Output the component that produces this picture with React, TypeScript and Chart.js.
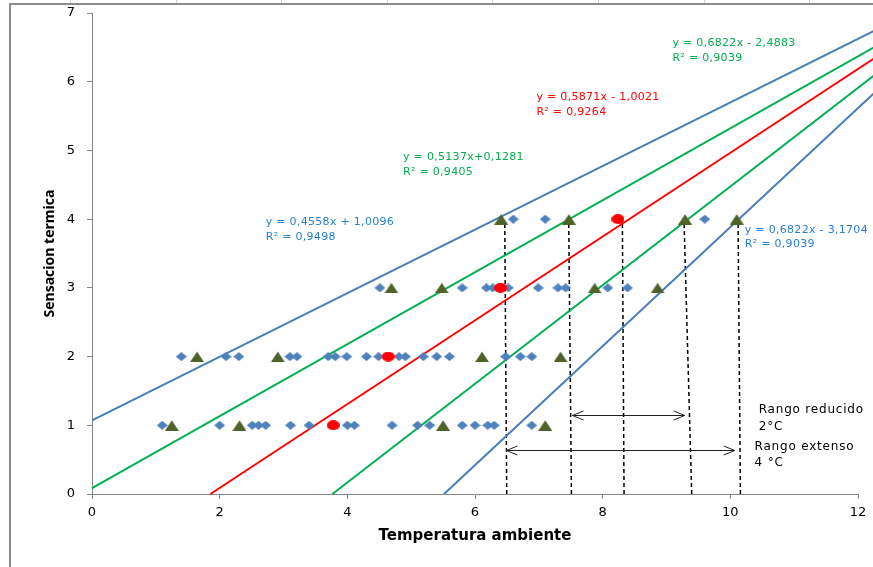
import React, { useEffect, useRef } from "react";
import { Chart, registerables } from "chart.js";
Chart.register(...registerables);

// ---- data ----
const xTickStep = 2;
const xMin = 0;
const xMax = 12;
const yMin = 0;
const yMax = 7;

// blue diamonds, one array per sensation level (1..4)
const diamondLevels = [1, 2, 3, 4];
const diamondX1 = [1.1, 2.0, 2.51, 2.61, 2.72, 3.11, 3.4, 4.0, 4.11, 4.7, 5.1, 5.29, 5.8, 6.0, 6.2, 6.3, 6.89];
const diamondX2 = [1.4, 2.1, 2.3, 3.1, 3.21, 3.7, 3.81, 3.99, 4.3, 4.49, 4.81, 4.91, 5.19, 5.4, 5.6, 6.48, 6.71, 6.89];
const diamondX3 = [4.51, 5.8, 6.18, 6.28, 6.52, 6.99, 7.3, 7.42, 8.08, 8.39];
const diamondX4 = [6.6, 7.1, 9.6];

// olive triangles
const triangleX1 = [1.25, 2.31, 5.5, 7.1];
const triangleX2 = [1.645, 2.91, 6.11, 7.34];
const triangleX3 = [4.69, 5.48, 7.875, 8.86];
const triangleX4 = [6.41, 7.47, 9.29, 10.1];

// red circles
const redX = [3.78, 4.64, 6.4, 8.24];
const redY = [1, 2, 3, 4];

// trend lines (end points)
const blueUpperX = [0, 12.5];
const blueUpperY = [1.07, 6.855];
const greenUpperX = [0, 12.5];
const greenUpperY = [0.087, 6.632];
const redLineX = [1.855, 12.5];
const redLineY = [0, 6.49];
const greenLowerX = [3.766, 12.5];
const greenLowerY = [0, 6.27];
const blueLowerX = [5.515, 12.5];
const blueLowerY = [0, 6.05];

// dashed verticals: bottom x, top x, top y
const dashBottomX = [6.497, 7.511, 8.335, 9.395, 10.158];
const dashTopX = [6.466, 7.468, 8.309, 9.275, 10.121];
const dashTopY = [3.96, 3.96, 3.93, 3.96, 3.96];

// double arrows
const arrowFrom = [7.527, 6.492];
const arrowTo = [9.286, 10.069];
const arrowY = [1.154, 0.645];

// equation texts
const eqTexts = [
  ["y = 0,4558x + 1,0096", "R² = 0,9498"],
  ["y = 0,5137x+0,1281", "R² = 0,9405"],
  ["y = 0,5871x - 1,0021", "R² = 0,9264"],
  ["y = 0,6822x - 2,4883", "R² = 0,9039"],
  ["y = 0,6822x - 3,1704", "R² = 0,9039"],
];
const rangeTexts = [["Rango reducido", "2°C"], ["Rango extenso", "4 °C"]];

// ---- styles / layout ----
const BLUE_LINE = "#4A7EBB";
const GREEN = "#00B050";
const RED = "#FF0000";
const BLUE_TEXT = "#2A80D0";
const eqStyle = [
  { x: 2.721, y: 3.953, color: BLUE_TEXT },
  { x: 4.872, y: 4.905, color: GREEN },
  { x: 6.962, y: 5.773, color: RED },
  { x: 9.093, y: 6.555, color: GREEN },
  { x: 10.226, y: 3.847, color: BLUE_TEXT },
];
const eqLineGap = 0.215;
const rangeStyle = [
  { x: 10.445, y: 1.217 },
  { x: 10.38, y: 0.684 },
];
const rangeLineGap = 0.235;

function makeShape(kind: string, w: number, h: number, color: string) {
  const c = document.createElement("canvas");
  c.width = w;
  c.height = h;
  const g = c.getContext("2d")!;
  g.fillStyle = color;
  g.beginPath();
  if (kind === "diamond") {
    g.moveTo(w / 2, 0);
    g.lineTo(w, h / 2);
    g.lineTo(w / 2, h);
    g.lineTo(0, h / 2);
  } else if (kind === "triangle") {
    g.moveTo(w / 2, 0.5);
    g.lineTo(w, h);
    g.lineTo(0, h);
  } else {
    g.ellipse(w / 2, h / 2, w / 2, h / 2, 0, 0, Math.PI * 2);
  }
  g.closePath();
  g.fill();
  return c;
}

const toPts = (xs: number[], ys: number[]) => xs.map((x, i) => ({ x, y: ys[i] }));
const rowPts = (rows: number[][]) =>
  rows.flatMap((xs, r) => xs.map((x) => ({ x, y: diamondLevels[r] })));

const annotPlugin = {
  id: "annot",
  afterDatasetsDraw(chart: any) {
    const { ctx, scales } = chart;
    const sx = scales.x;
    const sy = scales.y;
    ctx.save();
    // arrows
    ctx.strokeStyle = "#222";
    ctx.lineWidth = 1;
    arrowFrom.forEach((fx, i) => {
      const x1 = sx.getPixelForValue(fx);
      const x2 = sx.getPixelForValue(arrowTo[i]);
      const y = Math.round(sy.getPixelForValue(arrowY[i])) + 0.5;
      ctx.beginPath();
      ctx.moveTo(x1, y);
      ctx.lineTo(x2, y);
      ctx.moveTo(x1 + 11, y - 4.5);
      ctx.lineTo(x1, y);
      ctx.lineTo(x1 + 11, y + 4.5);
      ctx.moveTo(x2 - 11, y - 4.5);
      ctx.lineTo(x2, y);
      ctx.lineTo(x2 - 11, y + 4.5);
      ctx.stroke();
    });
    // equations
    ctx.textAlign = "left";
    ctx.textBaseline = "middle";
    ctx.font = "11px 'DejaVu Sans'";
    (ctx as any).letterSpacing = "0.3px";
    eqTexts.forEach((lines, i) => {
      const st = eqStyle[i];
      ctx.fillStyle = st.color;
      lines.forEach((t, j) => {
        ctx.fillText(t, sx.getPixelForValue(st.x), sy.getPixelForValue(st.y - j * eqLineGap));
      });
    });
    // range texts
    ctx.fillStyle = "#000";
    ctx.font = "12px 'DejaVu Sans'";
    (ctx as any).letterSpacing = "0.8px";
    rangeTexts.forEach((lines, i) => {
      const st = rangeStyle[i];
      lines.forEach((t, j) => {
        ctx.fillText(t, sx.getPixelForValue(st.x), sy.getPixelForValue(st.y - j * rangeLineGap));
      });
    });
    ctx.restore();
  },
};

export default function App() {
  const ref = useRef<HTMLCanvasElement>(null);
  useEffect(() => {
    const diamond = makeShape("diamond", 11, 9, "#4F81BD");
    const tri = makeShape("triangle", 14, 11, "#4F6228");
    const dot = makeShape("ellipse", 13, 10, RED);
    const lineDs = (xs: number[], ys: number[], color: string) => ({
      data: toPts(xs, ys),
      showLine: true,
      borderColor: color,
      borderWidth: 2,
      pointRadius: 0,
      clip: false,
      order: 2,
    });
    const dashDs = dashBottomX.map((bx, i) => ({
      data: [
        { x: bx, y: 0 },
        { x: dashTopX[i], y: dashTopY[i] },
      ],
      showLine: true,
      borderColor: "#000",
      borderWidth: 1.5,
      borderDash: [4, 3],
      pointRadius: 0,
      order: 3,
    }));
    const chart = new Chart(ref.current!, {
      type: "scatter",
      data: {
        datasets: [
          ...dashDs,
          lineDs(blueUpperX, blueUpperY, BLUE_LINE),
          lineDs(greenUpperX, greenUpperY, GREEN),
          lineDs(redLineX, redLineY, RED),
          lineDs(greenLowerX, greenLowerY, GREEN),
          lineDs(blueLowerX, blueLowerY, BLUE_LINE),
          {
            data: rowPts([diamondX1, diamondX2, diamondX3, diamondX4]),
            pointStyle: diamond as any,
            pointRadius: 5,
            showLine: false,
            order: 1,
          },
          {
            data: rowPts([triangleX1, triangleX2, triangleX3, triangleX4]),
            pointStyle: tri as any,
            pointRadius: 6,
            showLine: false,
            order: 0,
          },
          {
            data: toPts(redX, redY),
            pointStyle: dot as any,
            pointRadius: 6,
            showLine: false,
            order: 0,
          },
        ],
      } as any,
      options: {
        responsive: false,
        animation: false,
        events: [],
        layout: { padding: { left: 0, right: 15, top: 13, bottom: 0 } },
        plugins: { legend: { display: false }, tooltip: { enabled: false } },
        scales: {
          x: {
            type: "linear",
            min: xMin,
            max: xMax,
            ticks: {
              stepSize: xTickStep,
              color: "#000",
              font: { family: "DejaVu Sans", size: 13 },
              padding: 6,
              maxRotation: 0,
            },
            grid: { drawOnChartArea: false, drawTicks: true, tickLength: 5, color: "#868686" },
            border: { color: "#868686", width: 1 },
            title: {
              display: true,
              text: "Temperatura ambiente",
              color: "#000",
              font: { family: "DejaVu Sans", weight: "bold", size: 15 },
              padding: { top: 0, bottom: 22 },
            },
            afterFit: (s: any) => {
              s.height = 73;
              s.paddingLeft = 0;
              s.paddingRight = 0;
            },
          },
          y: {
            type: "linear",
            min: yMin,
            max: yMax,
            ticks: {
              stepSize: 1,
              color: "#000",
              font: { family: "DejaVu Sans", size: 13 },
              padding: 12,
            },
            grid: { drawOnChartArea: false, drawTicks: true, tickLength: 5, color: "#868686" },
            border: { color: "#868686", width: 1 },
            title: {
              display: true,
              text: "Sensacion termica",
              color: "#000",
              font: { family: "Open Sans", weight: "bold", size: 14 },
              padding: { top: 42, bottom: 0 },
            },
            afterFit: (s: any) => {
              s.width = 92;
              s.paddingTop = 0;
              s.paddingBottom = 0;
            },
          },
        },
      } as any,
      plugins: [annotPlugin],
    });
    return () => chart.destroy();
  }, []);

  const colLines = [70, 175.6, 281, 386.7, 492.3, 597.9, 703.5, 809];
  return (
    <div
      style={{
        position: "absolute",
        left: 0,
        top: 0,
        width: 873,
        height: 567,
        overflow: "hidden",
        background: "#fff",
      }}
    >
      {colLines.map((x) => (
        <div
          key={x}
          style={{ position: "absolute", left: Math.round(x), top: 0, width: 1, height: 4, background: "#d4d4d4" }}
        />
      ))}
      <div
        style={{
          position: "absolute",
          left: 9,
          top: 3,
          width: 900,
          height: 600,
          borderLeft: "2px solid #8c8c8c",
          borderTop: "2px solid #8c8c8c",
        }}
      />
      <canvas
        ref={ref}
        width={873}
        height={567}
        style={{ position: "absolute", left: 0, top: 0, width: 873, height: 567 }}
      />
    </div>
  );
}
